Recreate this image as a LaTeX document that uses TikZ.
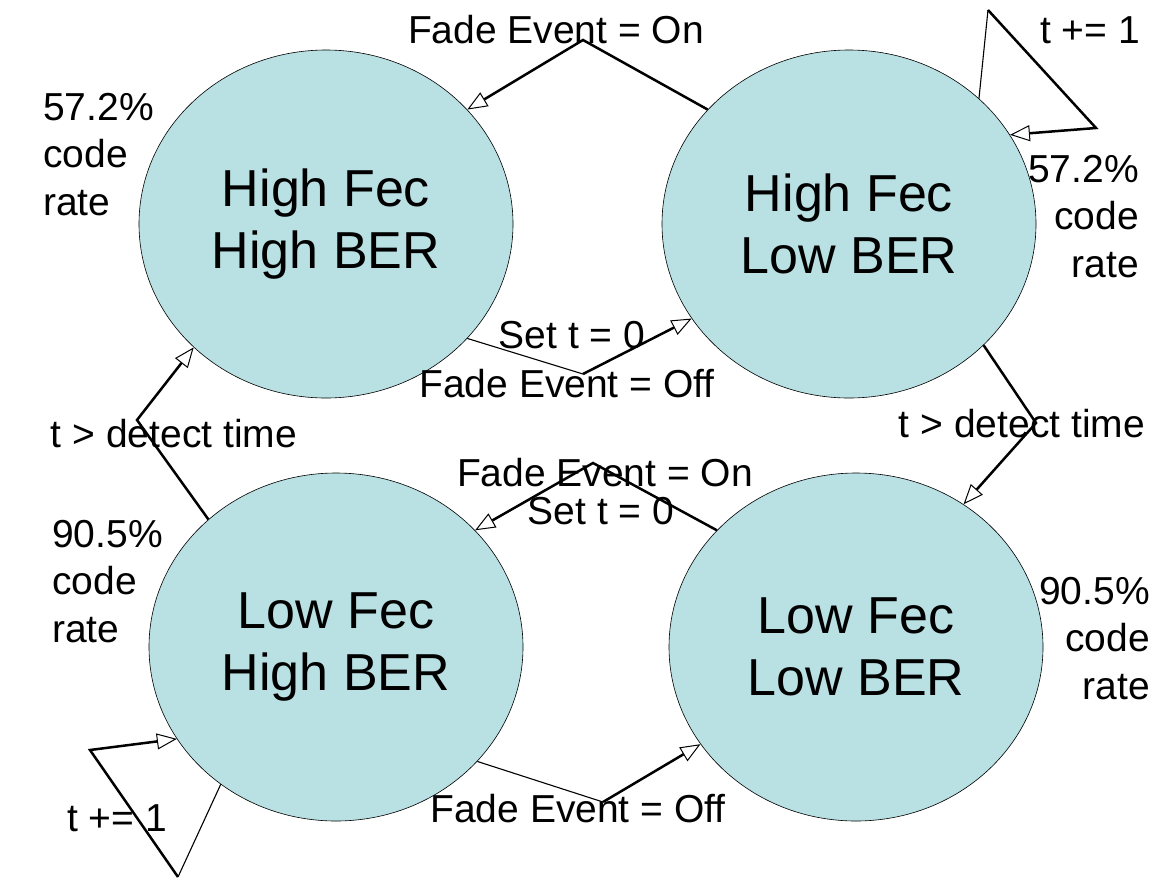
\documentclass[tikz,border=0pt]{standalone}
\usepackage{fontspec}
\setmainfont{Liberation Sans}
\usetikzlibrary{shapes.geometric, arrows.meta}
\definecolor{statefill}{RGB}{185,224,227}

\begin{document}
\begin{tikzpicture}[x=1pt, y=-1pt,
  state/.style={ellipse, draw, line width=0.6pt, fill=statefill, minimum width=374pt, minimum height=348pt, inner sep=0pt, align=center, font=\fontsize{52}{62}\selectfont},
  lbl/.style={inner sep=0pt, font=\fontsize{39}{47.5}\selectfont},
  trans/.style={line width=2.5pt, -{Triangle[fill=white, length=20pt, width=16pt, line width=1pt]}},
  feed/.style={line width=1.1pt}
]
\useasboundingbox (0,0) rectangle (1175,881);
% states
\node[state] (hh) at (326,224) {High Fec\\High BER};
\node[state] (hl) at (849,224) {High Fec\\Low BER};
\node[state] (lh) at (336,647) {Low Fec\\High BER};
\node[state] (ll) at (856,647) {Low Fec\\Low BER};
% bends
\coordinate (onT) at (583,40);
\coordinate (offT) at (583,374);
\coordinate (detR) at (1036,423);
\coordinate (detL) at (137,420);
\coordinate (onB) at (593,463);
\coordinate (offB) at (603,802);
\coordinate (loopTRa) at (988,10);
\coordinate (loopTRb) at (1096,128);
\coordinate (loopBLa) at (178,877);
\coordinate (loopBLb) at (90,750);
% transitions
\draw[trans] (hl.141) -- (onT) -- (hh.39);
\draw[feed] (hh.-39) -- (offT);
\draw[trans] (offT) -- (hl.211);
\draw[feed] (hl.44) -- (loopTRa);
\draw[trans] (loopTRa) -- (loopTRb) -- (hl.29);
\draw[trans] (hl.-42) -- (detR) -- (ll.53);
\draw[trans] (ll.140) -- (onB) -- (lh.40);
\draw[feed] (lh.-39) -- (offB);
\draw[trans] (offB) -- (ll.212);
\draw[trans] (lh.135) -- (detL) -- (hh.223);
\draw[feed] (lh.230) -- (loopBLa);
\draw[trans] (loopBLa) -- (loopBLb) -- (lh.210);
% labels
\node[lbl, anchor=base] (onTtxt) at (556,43) {Fade Event = On};
\node[lbl, anchor=base] (setTtxt) at (572,348) {Set t = 0};
\node[lbl, anchor=base] (offTtxt) at (567,397) {Fade Event = Off};
\node[lbl, anchor=base] (detRtxt) at (1022,437) {t > detect time};
\node[lbl, anchor=base] (detLtxt) at (174,447) {t > detect time};
\node[lbl, anchor=base] (onBtxt) at (605,486) {Fade Event = On};
\node[lbl, anchor=base] (setBtxt) at (601,524) {Set t = 0};
\node[lbl, anchor=base] (offBtxt) at (578,822) {Fade Event = Off};
\node[lbl, anchor=base] (incTR) at (1090,43) {t += 1};
\node[lbl, anchor=base] (incBL) at (117,831) {t += 1};
\node[lbl, align=left, anchor=north west] (rateHH) at (43,93) {57.2\%\\code\\rate};
\node[lbl, align=right, anchor=north east] (rateHL) at (1139,155) {57.2\%\\code\\rate};
\node[lbl, align=left, anchor=north west] (rateLH) at (52,520) {90.5\%\\code\\rate};
\node[lbl, align=right, anchor=north east] (rateLL) at (1150,577) {90.5\%\\code\\rate};
\end{tikzpicture}
\end{document}
